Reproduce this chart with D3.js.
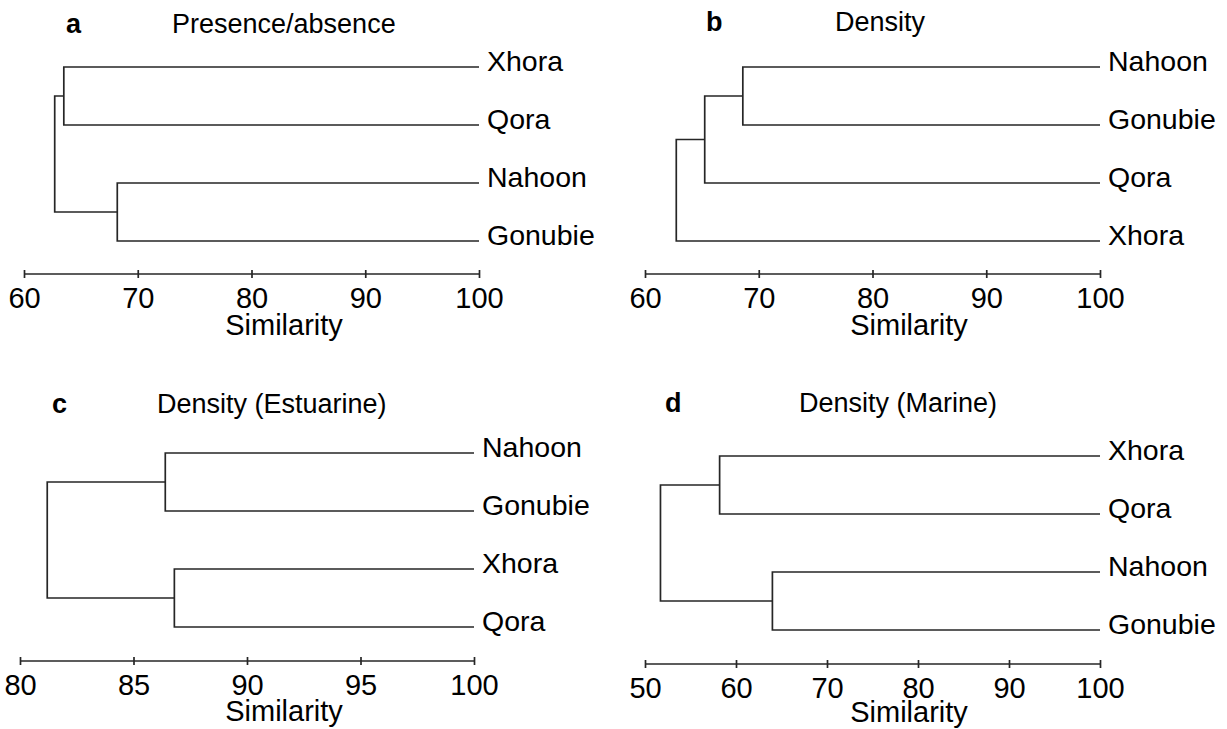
<!DOCTYPE html>
<html>
<head>
<meta charset="utf-8">
<script src="https://cdn.jsdelivr.net/npm/d3@7"></script>
<style>
  body { margin: 0; background: #fff; }
  svg { display: block; }
  text { font-family: "Liberation Sans", Arial, sans-serif; fill: #000; }
</style>
</head>
<body>
<svg id="chart" width="1227" height="729"></svg>
<script>
// Panel a: presence/absence
const leavesA = ["Xhora", "Qora", "Nahoon", "Gonubie"];
// each merge: [left child, right child, similarity]; a number refers to an earlier merge
const mergesA = [["Xhora", "Qora", 63.5], ["Nahoon", "Gonubie", 68.2], [0, 1, 62.7]];
const ticksA = [60, 70, 80, 90, 100];

// Panel b: density
const leavesB = ["Nahoon", "Gonubie", "Qora", "Xhora"];
const mergesB = [["Nahoon", "Gonubie", 68.6], [0, "Qora", 65.25], [1, "Xhora", 62.75]];
const ticksB = [60, 70, 80, 90, 100];

// Panel c: density, estuarine taxa
const leavesC = ["Nahoon", "Gonubie", "Xhora", "Qora"];
const mergesC = [["Nahoon", "Gonubie", 86.4], ["Xhora", "Qora", 86.8], [0, 1, 81.2]];
const ticksC = [80, 85, 90, 95, 100];

// Panel d: density, marine taxa
const leavesD = ["Xhora", "Qora", "Nahoon", "Gonubie"];
const mergesD = [["Xhora", "Qora", 58.2], ["Nahoon", "Gonubie", 64.0], [0, 1, 51.7]];
const ticksD = [50, 60, 70, 80, 90, 100];

const letters = ["a", "b", "c", "d"];
const titles = ["Presence/absence", "Density", "Density (Estuarine)", "Density (Marine)"];

const svg = d3.select("#chart");
const LABEL_SIZE = 28.5;
const TICK_SIZE = 29;
const TITLE_SIZE = 27;
const INK = "#262626";

// Layout of the four panels
const panels = [
  { leaves: leavesA, merges: mergesA, ticks: ticksA, x0: 24, x1: 479, yTop: 67, yBot: 241, axisY: 274,
    letterX: 66, titleX: 172, headY: 33, simX: 284, simY: 335 },
  { leaves: leavesB, merges: mergesB, ticks: ticksB, x0: 645, x1: 1100, yTop: 67, yBot: 241, axisY: 274,
    letterX: 706, titleX: 835, headY: 31, simX: 909, simY: 335 },
  { leaves: leavesC, merges: mergesC, ticks: ticksC, x0: 20, x1: 474, yTop: 453, yBot: 627, axisY: 661,
    letterX: 52, titleX: 157, headY: 413, simX: 284, simY: 721 },
  { leaves: leavesD, merges: mergesD, ticks: ticksD, x0: 645, x1: 1100, yTop: 456, yBot: 630, axisY: 664,
    letterX: 665, titleX: 799, headY: 412, simX: 909, simY: 722 }
];

panels.forEach((p, i) => {
  const g = svg.append("g");
  const x = d3.scaleLinear()
    .domain([p.ticks[0], p.ticks[p.ticks.length - 1]])
    .range([p.x0, p.x1]);
  const y = d3.scalePoint().domain(p.leaves).range([p.yTop, p.yBot]);
  const leafSim = x.domain()[1];

  // resolve node positions and draw each merge as a bracket
  const nodes = [];
  const pos = c => typeof c === "number"
    ? nodes[c]
    : { x: x(leafSim), y: y(c) };
  p.merges.forEach(([l, r, s]) => {
    const a = pos(l), b = pos(r);
    const mx = x(s);
    nodes.push({ x: mx, y: (a.y + b.y) / 2 });
    g.append("path")
      .attr("d", `M${a.x},${a.y}H${mx}V${b.y}H${b.x}`)
      .attr("fill", "none")
      .attr("stroke", INK)
      .attr("stroke-width", 1.7);
  });

  // leaf names
  g.selectAll("text.leaf").data(p.leaves).join("text")
    .attr("class", "leaf")
    .attr("x", x(leafSim) + 8)
    .attr("y", d => y(d) + 4)
    .attr("font-size", LABEL_SIZE)
    .text(d => d);

  // similarity axis
  const axis = d3.axisBottom(x).tickValues(p.ticks).tickSize(8).tickFormat(d3.format("d"));
  const ag = g.append("g").attr("transform", `translate(0,${p.axisY})`).call(axis);
  ag.select(".domain").attr("d", `M${p.x0},0H${p.x1}`).attr("stroke", INK).attr("stroke-width", 1.7);
  ag.selectAll(".tick line").attr("y1", -4).attr("y2", 4).attr("stroke", INK).attr("stroke-width", 1.7);
  ag.selectAll(".tick text")
    .attr("y", 34).attr("dy", null)
    .attr("font-size", TICK_SIZE)
    .attr("font-family", null)
    .attr("fill", "#000");

  g.append("text")
    .attr("x", p.simX).attr("y", p.simY)
    .attr("text-anchor", "middle")
    .attr("font-size", TICK_SIZE)
    .text("Similarity");

  g.append("text")
    .attr("x", p.letterX).attr("y", p.headY)
    .attr("font-size", TITLE_SIZE)
    .attr("font-weight", "bold")
    .text(letters[i]);

  g.append("text")
    .attr("x", p.titleX).attr("y", p.headY)
    .attr("font-size", TITLE_SIZE)
    .text(titles[i]);
});
</script>
</body>
</html>
